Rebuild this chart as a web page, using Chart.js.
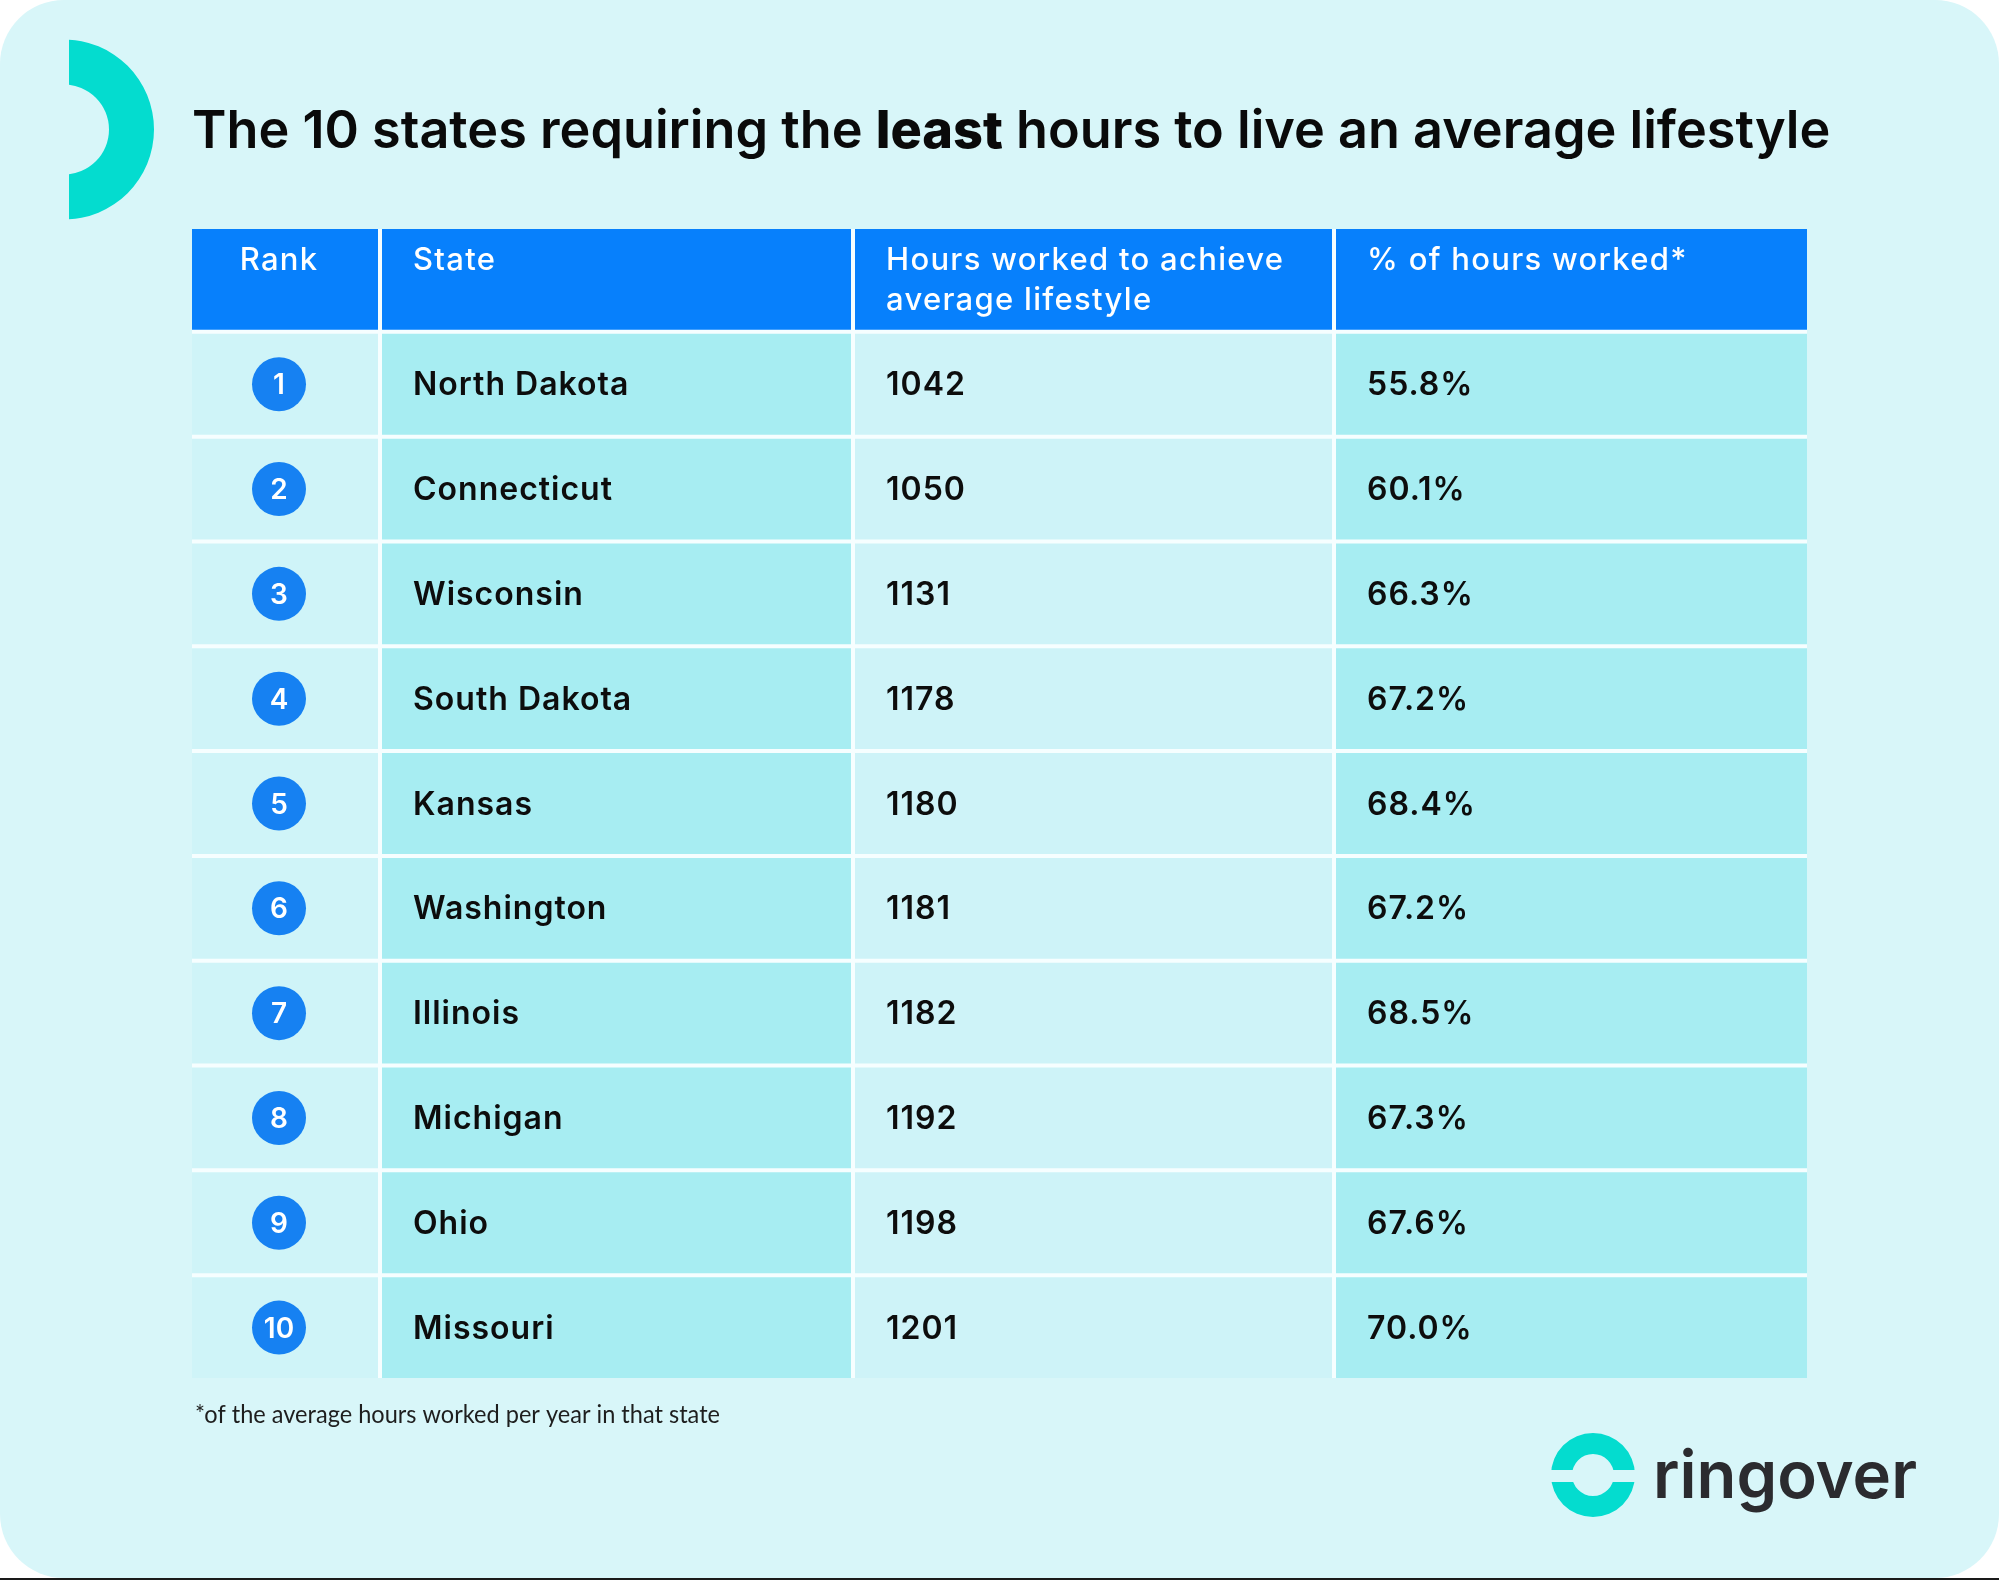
<!DOCTYPE html>
<html>
<head>
<meta charset="utf-8">
<script src="https://cdn.jsdelivr.net/npm/chart.js@4.4.1/dist/chart.umd.min.js"></script>
<style>
  body { margin: 0; background: #ffffff; }
  #wrap { width: 1999px; height: 1580px; position: relative; }
</style>
</head>
<body>
<div id="wrap"><canvas id="myChart"></canvas></div>
<script>
// Table data
var headers = ['Rank', 'State', ['Hours worked to achieve', 'average lifestyle'], '% of hours worked*'];
var ranks = [1, 2, 3, 4, 5, 6, 7, 8, 9, 10];
var states = ['North Dakota', 'Connecticut', 'Wisconsin', 'South Dakota', 'Kansas',
              'Washington', 'Illinois', 'Michigan', 'Ohio', 'Missouri'];
var hours = [1042, 1050, 1131, 1178, 1180, 1181, 1182, 1192, 1198, 1201];
var percents = [55.8, 60.1, 66.3, 67.2, 68.4, 67.2, 68.5, 67.3, 67.6, 70.0];

var titleParts = [['The 10 states requiring the ', 600], ['least', 800], [' hours to live an average lifestyle', 600]];
var footnote = '*of the average hours worked per year in that state';
var brand = 'ringover';

// Layout of the columns (x scale units, one unit = one pixel of table width)
var colEdges = [0, 188, 661, 1142, 1615];
var gap = 2;
var font = 'Inter, "Noto Sans", sans-serif';
var colColors = ['#cff4f8', '#a7edf2', '#cef3f8', '#a7edf2'];
var headerColor = '#0780fc';
var teal = '#04dccf';

var rowLabels = ['header'].concat(states);

function cellSpans(c) {
    var a = colEdges[c] + (c > 0 ? gap : 0);
    var b = colEdges[c + 1] - (c < colEdges.length - 2 ? gap : 0);
    return rowLabels.map(function() { return [a, b]; });
}

// Card, title, footnote and logo behind the table
var backdrop = {
    id: 'backdrop',
    beforeDraw: function(chart) {
        var ctx = chart.ctx;
        var area = chart.chartArea;
        ctx.save();
        ctx.fillStyle = '#ffffff';
        ctx.fillRect(0, 0, chart.width, chart.height);
        ctx.fillStyle = '#d8f6f9';
        ctx.beginPath();
        ctx.roundRect(0, 0, chart.width, chart.height - 2, 64);
        ctx.fill();
        ctx.fillStyle = '#1a1a1a';
        ctx.fillRect(0, chart.height - 2, chart.width, 2);

        // half ring in the corner
        ctx.save();
        ctx.beginPath();
        ctx.rect(69, 0, 200, 260);
        ctx.clip();
        ctx.beginPath();
        ctx.arc(64, 129.5, 90, 0, Math.PI * 2);
        ctx.arc(64, 129.5, 45, 0, Math.PI * 2, true);
        ctx.fillStyle = teal;
        ctx.fill();
        ctx.restore();

        // title, sized to span the table width
        var base = 48, w = 0;
        titleParts.forEach(function(p) {
            ctx.font = p[1] + ' ' + base + 'px ' + font;
            w += ctx.measureText(p[0]).width;
        });
        var size = base * 1639 / w;
        var x = area.left;
        ctx.fillStyle = '#0a0a0a';
        ctx.textAlign = 'left';
        ctx.textBaseline = 'alphabetic';
        titleParts.forEach(function(p) {
            ctx.font = p[1] + ' ' + size + 'px ' + font;
            ctx.fillText(p[0], x, 148);
            x += ctx.measureText(p[0]).width;
        });

        // footnote
        ctx.font = '400 25px Lato, "Open Sans", sans-serif';
        ctx.fillStyle = '#1e1e1e';
        ctx.fillText(footnote, area.left + 3, 1423, 525);

        // logo
        ctx.beginPath();
        ctx.arc(1593, 1475, 42, 0, Math.PI * 2);
        ctx.arc(1593, 1475, 21, 0, Math.PI * 2, true);
        ctx.fillStyle = teal;
        ctx.fill();
        ctx.fillStyle = '#d8f6f9';
        ctx.fillRect(1545, 1470, 100, 12);
        ctx.font = '600 66px ' + font;
        ctx.fillStyle = '#2b2b2f';
        ctx.fillText(brand, 1653, 1498, 264);

        // white lines between cells
        ctx.fillStyle = '#f6feff';
        ctx.fillRect(area.left, area.top + gap, area.width, area.height - 2 * gap);
        ctx.restore();
    }
};

// Text and rank badges on top of the cells
var cellText = {
    id: 'cellText',
    afterDatasetsDraw: function(chart) {
        var ctx = chart.ctx;
        ctx.save();
        ctx.textBaseline = 'alphabetic';
        for (var c = 0; c < headers.length; c++) {
            var meta = chart.getDatasetMeta(c);
            meta.data.forEach(function(bar, i) {
                var left = Math.min(bar.x, bar.base);
                var top = bar.y - bar.height / 2;
                if (i === 0) {
                    var lines = [].concat(headers[c]);
                    ctx.font = '500 31px ' + font;
                    ctx.letterSpacing = '1.3px';
                    ctx.fillStyle = '#ffffff';
                    lines.forEach(function(line, k) {
                        if (c === 0) {
                            ctx.textAlign = 'center';
                            ctx.fillText(line, left + 87, top + 41 + k * 40);
                        } else {
                            ctx.textAlign = 'left';
                            ctx.fillText(line, left + 31, top + 41 + k * 40);
                        }
                    });
                    return;
                }
                var r = i - 1;
                if (c === 0) {
                    ctx.beginPath();
                    ctx.arc(left + 87, bar.y, 27, 0, Math.PI * 2);
                    ctx.fillStyle = '#1681f2';
                    ctx.fill();
                    ctx.fillStyle = '#ffffff';
                    ctx.font = '600 28px ' + font;
                    ctx.letterSpacing = '0px';
                    ctx.textAlign = 'center';
                    ctx.fillText(String(ranks[r]), left + 87, bar.y + 10);
                    return;
                }
                var txt = c === 1 ? states[r] : (c === 2 ? String(hours[r]) : percents[r].toFixed(1) + '%');
                ctx.font = '600 32px ' + font;
                ctx.letterSpacing = '1px';
                ctx.fillStyle = '#0d0d0d';
                ctx.textAlign = 'left';
                ctx.fillText(txt, left + 31, bar.y + 11);
            });
        }
        ctx.restore();
    }
};

window.addEventListener('load', function() {
    var ctx = document.getElementById('myChart').getContext('2d');
    var datasets = headers.map(function(h, c) {
        return {
            label: [].concat(h).join(' '),
            data: cellSpans(c),
            backgroundColor: function(context) {
                return context.dataIndex === 0 ? headerColor : colColors[c];
            },
            borderWidth: 0,
            grouped: false,
            categoryPercentage: 1,
            barPercentage: 0.962
        };
    });
    new Chart(ctx, {
        type: 'bar',
        data: { labels: rowLabels, datasets: datasets },
        options: {
            indexAxis: 'y',
            responsive: true,
            maintainAspectRatio: false,
            animation: false,
            layout: { padding: { left: 192, right: 192, top: 227, bottom: 200 } },
            scales: {
                x: { type: 'linear', min: 0, max: colEdges[colEdges.length - 1], display: false },
                y: { type: 'category', display: false }
            },
            plugins: {
                legend: { display: false },
                tooltip: { enabled: false },
                title: { display: false }
            }
        },
        plugins: [backdrop, cellText]
    });
});
</script>
</body>
</html>
